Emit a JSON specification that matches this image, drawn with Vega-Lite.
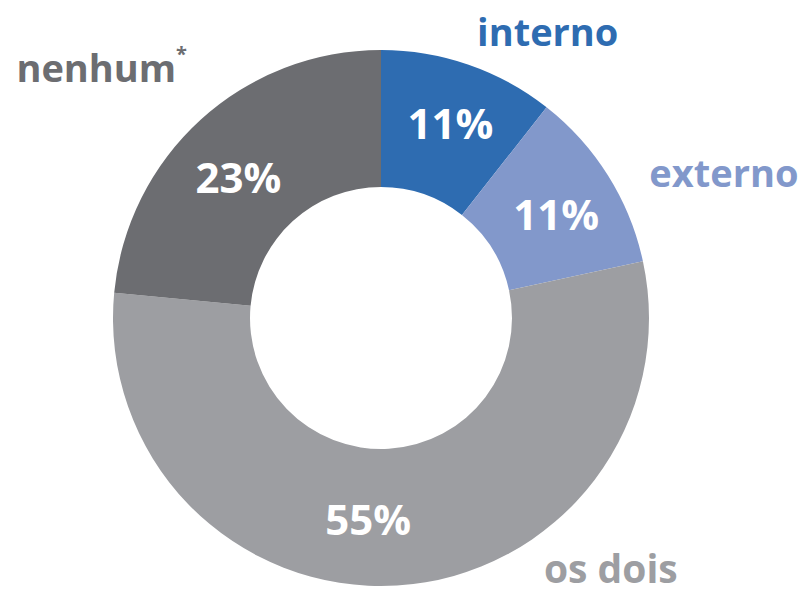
{
  "$schema": "https://vega.github.io/schema/vega-lite/v6.json",
  "autosize": "none",
  "width": 762,
  "height": 544,
  "padding": {"left": 0, "top": 46, "right": 43, "bottom": 0},
  "background": "white",
  "config": {"view": {"stroke": null}},
  "data": {
    "values": [
      {"cat": "interno", "value": 10.6, "rank": 1, "pct": "11%"},
      {"cat": "externo", "value": 11.0, "rank": 2, "pct": "11%"},
      {"cat": "os dois", "value": 54.9, "rank": 3, "pct": "55%"},
      {"cat": "nenhum", "value": 23.5, "rank": 4, "pct": "23%"}
    ]
  },
  "encoding": {
    "theta": {"field": "value", "type": "quantitative", "stack": true, "scale": {"domain": [0, 100]}},
    "order": {"field": "rank", "type": "quantitative"}
  },
  "layer": [
    {
      "mark": {"type": "arc", "outerRadius": 268, "innerRadius": 131},
      "encoding": {
        "color": {
          "field": "cat", "type": "nominal", "legend": null,
          "scale": {"domain": ["interno", "externo", "os dois", "nenhum"], "range": ["#2e6cb1", "#8298cb", "#9d9ea2", "#6c6d71"]}
        }
      }
    },
    {
      "mark": {"type": "text", "radius": 203, "font": "Open Sans", "fontWeight": "bold", "fontSize": 42, "color": "white", "baseline": "middle", "align": "center", "dx": 3, "dy": 0},
      "encoding": {"text": {"condition": {"test": "datum.cat === 'interno'", "field": "pct"}, "value": ""}}
    },
    {
      "mark": {"type": "text", "radius": 203, "font": "Open Sans", "fontWeight": "bold", "fontSize": 42, "color": "white", "baseline": "middle", "align": "center", "dx": 3, "dy": 7},
      "encoding": {"text": {"condition": {"test": "datum.cat === 'externo'", "field": "pct"}, "value": ""}}
    },
    {
      "mark": {"type": "text", "radius": 203, "font": "Open Sans", "fontWeight": "bold", "fontSize": 42, "color": "white", "baseline": "middle", "align": "center", "dx": -25, "dy": 1},
      "encoding": {"text": {"condition": {"test": "datum.cat === 'os dois'", "field": "pct"}, "value": ""}}
    },
    {
      "mark": {"type": "text", "radius": 203, "font": "Open Sans", "fontWeight": "bold", "fontSize": 42, "color": "white", "baseline": "middle", "align": "center", "dx": -6, "dy": 12},
      "encoding": {"text": {"condition": {"test": "datum.cat === 'nenhum'", "field": "pct"}, "value": ""}}
    },
    {
      "mark": {"type": "text", "radius": 300, "font": "Open Sans", "fontWeight": "bold", "fontSize": 38, "color": "#2e6cb1", "baseline": "alphabetic", "align": "left", "dx": -2, "dy": 12},
      "encoding": {"text": {"condition": {"test": "datum.cat === 'interno'", "field": "cat"}, "value": ""}}
    },
    {
      "mark": {"type": "text", "radius": 300, "font": "Open Sans", "fontWeight": "bold", "fontSize": 38, "color": "#8298cb", "baseline": "alphabetic", "align": "left", "dx": 14, "dy": 28},
      "encoding": {"text": {"condition": {"test": "datum.cat === 'externo'", "field": "cat"}, "value": ""}}
    },
    {
      "mark": {"type": "text", "radius": 300, "font": "Open Sans", "fontWeight": "bold", "fontSize": 39, "color": "#9d9ea2", "baseline": "alphabetic", "align": "left", "dx": 145, "dy": -34},
      "encoding": {"text": {"condition": {"test": "datum.cat === 'os dois'", "field": "cat"}, "value": ""}}
    },
    {
      "mark": {"type": "text", "radius": 300, "font": "Open Sans", "fontWeight": "bold", "fontSize": 38, "color": "#6c6d71", "baseline": "alphabetic", "align": "right", "dx": -3, "dy": -14},
      "encoding": {"text": {"condition": {"test": "datum.cat === 'nenhum'", "field": "cat"}, "value": ""}}
    },
    {
      "mark": {"type": "text", "radius": 300, "font": "Open Sans", "fontWeight": "bold", "fontSize": 20, "color": "#6c6d71", "baseline": "alphabetic", "align": "left", "dx": -3, "dy": -35},
      "encoding": {"text": {"condition": {"test": "datum.cat === 'nenhum'", "value": "*"}, "value": ""}}
    }
  ]
}
